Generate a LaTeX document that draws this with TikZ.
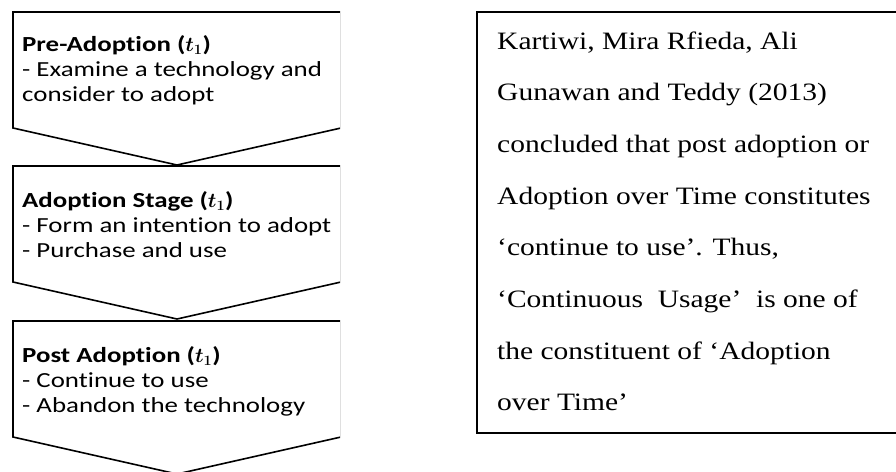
\documentclass[tikz,border=0pt]{standalone}
\usepackage{amsmath}
\usepackage{fontspec}
\setmainfont[FakeStretch=1.18]{Liberation Serif}
\newfontfamily\stagefont[FakeStretch=1.25,Ligatures=NoCommon]{Carlito}
\begin{document}
\begin{tikzpicture}[x=1pt,y=-1pt,
  stageshape/.style={draw=black,line width=1.6pt,fill=white,line join=miter},
  stagetext/.style={anchor=base west,inner sep=0pt,font=\stagefont\fontsize{21.5}{25}\selectfont},
  notebox/.style={draw=black,line width=1.6pt},
  notetext/.style={anchor=base west,inner sep=0pt,font=\fontsize{25}{51.7}\selectfont}]
\useasboundingbox (0,0) rectangle (896,471);
\fill[white] (0,0) rectangle (896,471);

% the three stage chevrons, cut off on the right
\begin{scope}
  \clip (0,0) rectangle (340,471);
  \foreach \t/\n in {12/one,166/two,321/three}{
    \draw[stageshape] (13,\t) -- (341,\t) -- (341,\t+116) -- (177,\t+153) -- (13,\t+116) -- cycle;
  }
\end{scope}

\node[stagetext] (pre) at (22,51) {\vtop{\baselineskip=25pt
  \hbox{\textbf{Pre-Adoption (}$\boldsymbol{t_1}$\textbf{)}}
  \hbox{- Examine a technology and}
  \hbox{consider to adopt}}};
\node[stagetext] (adopt) at (22,207) {\vtop{\baselineskip=25pt
  \hbox{\textbf{Adoption Stage (}$\boldsymbol{t_1}$\textbf{)}}
  \hbox{- Form an intention to adopt}
  \hbox{- Purchase and use}}};
\node[stagetext] (post) at (22,362) {\vtop{\baselineskip=25pt
  \hbox{\textbf{Post Adoption (}$\boldsymbol{t_1}$\textbf{)}}
  \hbox{- Continue to use}
  \hbox{- Abandon the technology}}};

% note box, open towards the right edge
\draw[notebox] (900,12) -- (477,12) -- (477,433) -- (900,433);
\node[notetext] (note) at (497,49) {\vtop{\baselineskip=51.7pt
  \hbox{Kartiwi, Mira Rfieda, Ali}
  \hbox{Gunawan and Teddy (2013)}
  \hbox{concluded that post adoption or}
  \hbox{Adoption over Time constitutes}
  \hbox{‘continue to use’. Thus,}
  \hbox{‘Continuous\ \ Usage’\ \ is one of}
  \hbox{the constituent of ‘Adoption}
  \hbox{over Time’}}};
\end{tikzpicture}
\end{document}
